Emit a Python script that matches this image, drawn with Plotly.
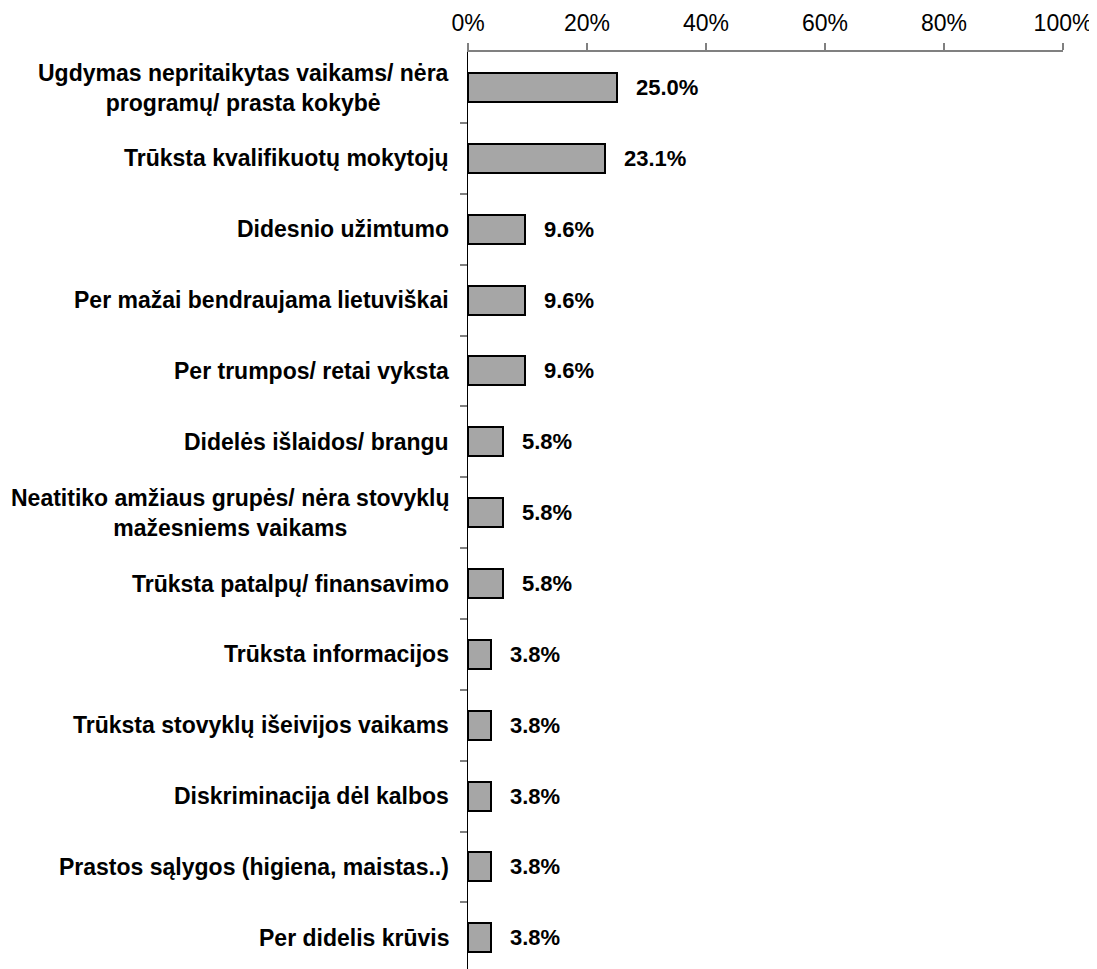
import plotly.graph_objects as go

categories = [
    "Ugdymas nepritaikytas vaikams/ nėra<br>programų/ prasta kokybė",
    "Trūksta kvalifikuotų mokytojų",
    "Didesnio užimtumo",
    "Per mažai bendraujama lietuviškai",
    "Per trumpos/ retai vyksta",
    "Didelės išlaidos/ brangu",
    "Neatitiko amžiaus grupės/ nėra stovyklų<br>mažesniems vaikams",
    "Trūksta patalpų/ finansavimo",
    "Trūksta informacijos",
    "Trūksta stovyklų išeivijos vaikams",
    "Diskriminacija dėl kalbos",
    "Prastos sąlygos (higiena, maistas..)",
    "Per didelis krūvis",
]
values = [25.0, 23.1, 9.6, 9.6, 9.6, 5.8, 5.8, 5.8, 3.8, 3.8, 3.8, 3.8, 3.8]
tick_vals = [0, 20, 40, 60, 80, 100]
tick_text = ["0%", "20%", "40%", "60%", "80%", "100%"]

# page body has an 8px margin; compensate so the picture lines up
OFF = 8
W, H = 1097 - OFF, 969 - OFF
FONT = "Liberation Sans, Arial, sans-serif"

fig = go.Figure()
fig.add_trace(go.Bar(
    x=values,
    y=list(range(len(categories))),
    orientation="h",
    width=0.41,
    marker=dict(color="#a6a6a6", line=dict(color="#000000", width=2)),
    hoverinfo="skip",
))

annotations = []
for i, (c, v) in enumerate(zip(categories, values)):
    annotations.append(dict(
        x=0, xref="paper", y=i, yref="y", text=f"<b>{c}</b>",
        xanchor="right", yanchor="middle", align="center", xshift=-17,
        showarrow=False, font=dict(family=FONT, size=23, color="#000000"),
    ))
    annotations.append(dict(
        x=v, xref="x", y=i, yref="y", text=f"<b>{v:.1f}%</b>",
        xanchor="left", yanchor="middle", xshift=17,
        showarrow=False, font=dict(family=FONT, size=22, color="#000000"),
    ))

n = len(categories)
top_px, bottom_px = 52 - OFF, 969 - OFF
band = 70.86
first_center = 87.5 - OFF
y_bottom = (bottom_px - first_center) / band
y_top = (top_px - first_center) / band

fig.update_layout(
    width=W, height=H,
    margin=dict(l=468 - OFF, r=W - (1063 - OFF), t=top_px, b=H - bottom_px, pad=0),
    paper_bgcolor="white", plot_bgcolor="white",
    showlegend=False,
    bargap=0,
    annotations=annotations,
    xaxis=dict(
        side="top", range=[0, 100], tickvals=tick_vals, ticktext=tick_text,
        showgrid=False, zeroline=False,
        showline=True, linecolor="#808080", linewidth=2,
        ticks="outside", ticklen=7, tickcolor="#808080", tickwidth=2,
        ticklabelstandoff=3,
        tickfont=dict(family=FONT, size=23, color="#000000"),
        fixedrange=True,
    ),
    yaxis=dict(
        range=[y_bottom, y_top],
        tickmode="array",
        tickvals=[i + 0.5 for i in range(n - 1)],
        ticktext=[""] * (n - 1),
        showgrid=False, zeroline=False,
        showline=True, linecolor="#000000", linewidth=1,
        ticks="outside", ticklen=7, tickcolor="#808080", tickwidth=1.5,
        fixedrange=True,
    ),
)

fig.write_html("out.html")
